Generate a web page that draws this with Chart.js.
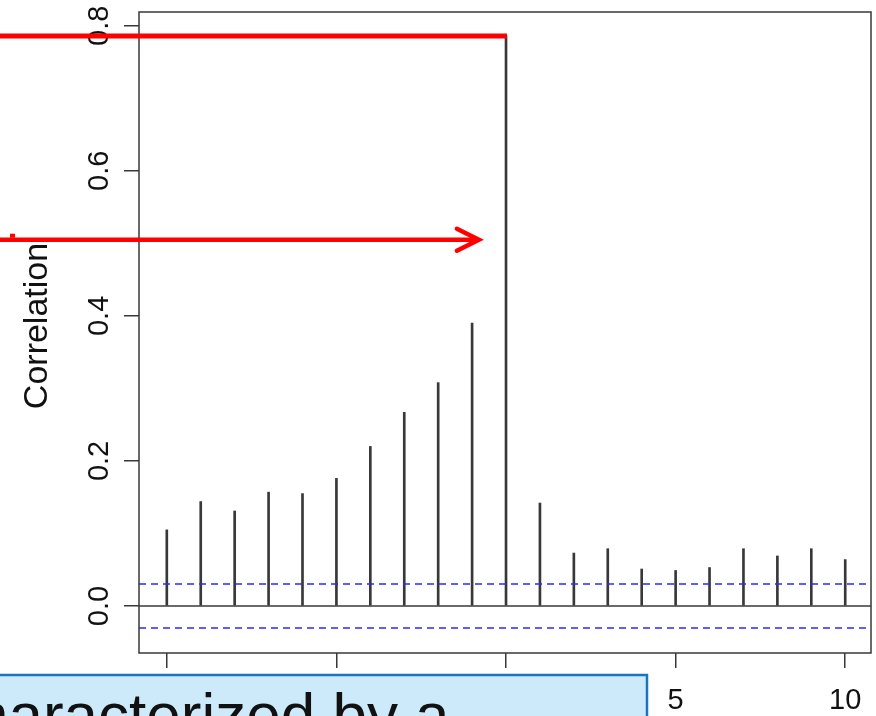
<!DOCTYPE html>
<html>
<head>
<meta charset="utf-8">
<script src="https://cdn.jsdelivr.net/npm/chart.js@4/dist/chart.umd.min.js"></script>
<style>
  html, body { margin: 0; padding: 0; background: #ffffff; }
  #wrap { width: 876px; height: 716px; overflow: hidden; }
  canvas { display: block; }
</style>
</head>
<body>
<div id="wrap"><canvas id="acf" width="876" height="716"></canvas></div>
<script>
// Cross-correlation by lag
const lags = [-10, -9, -8, -7, -6, -5, -4, -3, -2, -1, 0, 1, 2, 3, 4, 5, 6, 7, 8, 9, 10];
const correlations = [0.105, 0.144, 0.131, 0.157, 0.155, 0.176, 0.220, 0.267, 0.308, 0.390,
                      0.786, 0.142, 0.073, 0.079, 0.051, 0.049, 0.053, 0.079, 0.069, 0.079, 0.064];
// Approximate 95% significance bound
const ciBound = 0.0303;
const yTickValues = [0, 0.2, 0.4, 0.6, 0.8];
const yTickLabels = ['0.0', '0.2', '0.4', '0.6', '0.8'];
const xTickValues = [-10, -5, 0, 5, 10];
const xTickLabels = ['-10', '-5', '0', '5', '10'];
const yLabel = 'Correlation';
const calloutText = 'characterized by a';
// Value and lag the arrow annotation points to
const arrowValue = 0.505;
const arrowLag = -0.8;

const xMin = -10.82, xMax = 10.76;
const yMin = -0.0648, yMax = 0.819;

const FONT = '"Liberation Sans", Arial, Helvetica, sans-serif';
const INK = '#383838';

const acfPoints = lags.map((l, i) => ({ x: l, y: correlations[i] }));

const framePlugin = {
  id: 'acfFrame',
  afterDraw(chart) {
    const ctx = chart.ctx;
    const xs = chart.scales.x, ys = chart.scales.y;
    const a = chart.chartArea;
    ctx.save();

    // plot box
    ctx.strokeStyle = INK;
    ctx.lineWidth = 1.5;
    ctx.strokeRect(a.left, a.top, a.right - a.left, a.bottom - a.top);

    // y tick labels, parallel to the axis
    ctx.fillStyle = '#111111';
    ctx.font = '29px ' + FONT;
    ctx.textAlign = 'center';
    ctx.textBaseline = 'alphabetic';
    yTickValues.forEach((v, i) => {
      const py = ys.getPixelForValue(v);
      ctx.save();
      ctx.translate(108, py);
      ctx.rotate(-Math.PI / 2);
      ctx.fillText(yTickLabels[i], 0, 0);
      ctx.restore();
    });

    // x tick labels
    xTickValues.forEach((v, i) => {
      ctx.fillText(xTickLabels[i], xs.getPixelForValue(v), 709);
    });

    // y axis title
    ctx.font = '34px ' + FONT;
    ctx.save();
    ctx.translate(47, 326);
    ctx.rotate(-Math.PI / 2);
    ctx.fillText(yLabel, 0, 0);
    ctx.restore();

    // callout box at the bottom
    ctx.fillStyle = '#cdeafb';
    ctx.fillRect(-10, 675, 657, 60);
    ctx.strokeStyle = '#1b74bd';
    ctx.lineWidth = 2.5;
    ctx.strokeRect(-10, 675, 657, 60);
    ctx.fillStyle = '#111111';
    ctx.font = '62px ' + FONT;
    ctx.textAlign = 'left';
    ctx.fillText(calloutText, -57, 736);

    // red highlight at the lag-0 peak
    const peakY = ys.getPixelForValue(correlations[lags.indexOf(0)]);
    ctx.strokeStyle = '#ff0000';
    ctx.lineWidth = 5;
    ctx.lineCap = 'butt';
    ctx.beginPath();
    ctx.moveTo(0, peakY);
    ctx.lineTo(xs.getPixelForValue(0) + 1, peakY);
    ctx.stroke();

    // red arrow
    const ay = ys.getPixelForValue(arrowValue);
    const ax = xs.getPixelForValue(arrowLag);
    ctx.lineWidth = 4.5;
    ctx.beginPath();
    ctx.moveTo(0, ay);
    ctx.lineTo(ax - 2, ay);
    ctx.stroke();
    ctx.lineCap = 'round';
    ctx.lineJoin = 'miter';
    ctx.beginPath();
    ctx.moveTo(ax - 22, ay - 11);
    ctx.lineTo(ax, ay);
    ctx.lineTo(ax - 22, ay + 11);
    ctx.stroke();
    ctx.fillStyle = '#ff0000';
    ctx.fillRect(10, ay - 6, 5, 4);

    ctx.restore();
  }
};

new Chart(document.getElementById('acf'), {
  type: 'bar',
  data: {
    datasets: [
      {
        type: 'bar',
        data: acfPoints,
        backgroundColor: INK,
        borderWidth: 0,
        barThickness: 2,
        order: 2
      },
      {
        type: 'line',
        data: [{ x: xMin, y: 0 }, { x: xMax, y: 0 }],
        borderColor: INK,
        borderWidth: 1.5,
        pointRadius: 0,
        order: 1
      },
      {
        type: 'line',
        data: [{ x: xMin, y: ciBound }, { x: xMax, y: ciBound }],
        borderColor: '#2a2aff',
        borderWidth: 1.5,
        borderDash: [7, 5],
        pointRadius: 0,
        order: 0
      },
      {
        type: 'line',
        data: [{ x: xMin, y: -ciBound }, { x: xMax, y: -ciBound }],
        borderColor: '#2a2aff',
        borderWidth: 1.5,
        borderDash: [7, 5],
        pointRadius: 0,
        order: 0
      }
    ]
  },
  options: {
    responsive: false,
    animation: false,
    devicePixelRatio: 1,
    layout: { padding: { left: 0, top: 12, right: 5, bottom: 0 } },
    plugins: { legend: { display: false }, tooltip: { enabled: false }, title: { display: false } },
    scales: {
      x: {
        type: 'linear',
        min: xMin,
        max: xMax,
        offset: false,
        afterBuildTicks(scale) { scale.ticks = xTickValues.map(v => ({ value: v })); },
        afterFit(scale) { scale.height = 63; },
        ticks: { display: false },
        grid: { display: true, drawOnChartArea: false, drawTicks: true, tickLength: 15, color: INK, lineWidth: 1.5, offset: false },
        border: { display: false }
      },
      y: {
        type: 'linear',
        min: yMin,
        max: yMax,
        afterBuildTicks(scale) { scale.ticks = yTickValues.map(v => ({ value: v })); },
        afterFit(scale) { scale.width = 139; },
        ticks: { display: false },
        grid: { display: true, drawOnChartArea: false, drawTicks: true, tickLength: 15, color: INK, lineWidth: 1.5 },
        border: { display: false }
      }
    }
  },
  plugins: [framePlugin]
});
</script>
</body>
</html>
